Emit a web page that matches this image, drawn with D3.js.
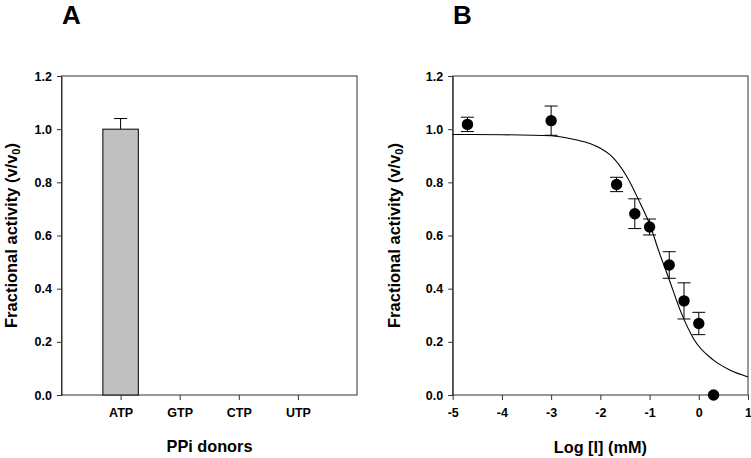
<!DOCTYPE html>
<html><head><meta charset="utf-8">
<script src="https://cdn.jsdelivr.net/npm/d3@7"></script>
<style>body{margin:0;background:#fff}svg{display:block}text{font-family:"Liberation Sans",Arial,sans-serif;font-weight:bold;fill:#000}</style>
</head><body>
<svg id="c" width="751" height="458"></svg>
<script>
// Panel A data
const donors = ["ATP","GTP","CTP","UTP"];
const donorActivity = [1.0, 0, 0, 0];
const donorError = [0.04, 0, 0, 0];
// Panel B data
const logI = [-4.7, -3.0, -1.67, -1.3, -1.0, -0.6, -0.3, 0.0, 0.3];
const activity = [1.018, 1.032, 0.792, 0.682, 0.632, 0.489, 0.354, 0.269, 0.0];
const activityErr = [0.027, 0.055, 0.027, 0.056, 0.03, 0.05, 0.068, 0.042, 0];
// fitted curve
const curveX = [-5, -4, -3, -2.5, -2.2, -2.0, -1.8, -1.46, -1.19, -0.99, -0.82, -0.62, -0.35, -0.1, 0.3, 0.64, 1.0];
const curveY = [0.980, 0.979, 0.975, 0.960, 0.945, 0.928, 0.903, 0.821, 0.721, 0.639, 0.545, 0.444, 0.306, 0.210, 0.131, 0.093, 0.068];
const yTicks = [0, 0.2, 0.4, 0.6, 0.8, 1.0, 1.2];
const xTicksB = [-5, -4, -3, -2, -1, 0, 1];

const svg = d3.select("#c");
const plotTop = 76, plotBottom = 395;
const axisCol = "#333";
const tickFont = "12.5px";

function styleText(sel) {
  sel.style("font-size", tickFont).style("font-family", "Liberation Sans, Arial, sans-serif").style("font-weight", "bold").attr("fill", "#000");
}
function frame(g, x0, x1) {
  g.append("rect").attr("x", x0).attr("y", plotTop).attr("width", x1 - x0).attr("height", plotBottom - plotTop)
    .attr("fill", "none").attr("stroke", axisCol).attr("stroke-width", 1);
}
function yAxis(g, y, x0) {
  const ax = g.append("g").attr("transform", `translate(${x0},0)`)
    .call(d3.axisLeft(y).tickValues(yTicks).tickFormat(d3.format(".1f")).tickSize(4.5).tickPadding(5));
  ax.select(".domain").attr("stroke", axisCol);
  ax.selectAll(".tick line").attr("stroke", axisCol);
  styleText(ax.selectAll("text"));
}
function yTitle(g, x) {
  const t = g.append("text").attr("transform", `translate(${x},${(plotTop + plotBottom) / 2}) rotate(-90)`)
    .attr("text-anchor", "middle").style("font-size", "16.5px");
  t.append("tspan").text("Fractional activity (v/v");
  t.append("tspan").text("0").style("font-size", "11px").attr("dy", "3");
  t.append("tspan").text(")").attr("dy", "-3");
}

// ---------- Panel A ----------
const gA = svg.append("g");
const xA0 = 61.5, xA1 = 357;
const xA = d3.scaleLinear().domain([0, 5]).range([xA0, xA1]);
const yA = d3.scaleLinear().domain([0, 1.2]).range([plotBottom, plotTop]);
frame(gA, xA0, xA1);
const bw = xA(0.6) - xA(0);
donors.forEach((d, i) => {
  if (donorError[i] > 0) {
    const cx = xA(i + 1);
    const yt = yA(donorActivity[i] + donorError[i]);
    gA.append("line").attr("x1", cx).attr("x2", cx).attr("y1", yA(donorActivity[i])).attr("y2", yt).attr("stroke", "#000");
    gA.append("line").attr("x1", cx - 6.5).attr("x2", cx + 6.5).attr("y1", yt).attr("y2", yt).attr("stroke", "#000");
  }
});
gA.selectAll("rect.bar").data(donors.map((d, i) => ({d, i, v: donorActivity[i]})).filter(o => o.v > 0))
  .enter().append("rect").attr("class", "bar")
  .attr("x", o => xA(o.i + 1) - bw / 2)
  .attr("y", o => yA(o.v))
  .attr("width", bw)
  .attr("height", o => plotBottom - yA(o.v))
  .attr("fill", "#c0c0c0").attr("stroke", "#000").attr("stroke-width", 1);
yAxis(gA, yA, xA0);
const axA = gA.append("g").attr("transform", `translate(0,${plotBottom})`)
  .call(d3.axisBottom(xA).tickValues([1, 2, 3, 4]).tickFormat(d => donors[d - 1]).tickSize(5).tickPadding(8));
axA.select(".domain").remove();
axA.selectAll(".tick line").attr("stroke", axisCol);
styleText(axA.selectAll("text"));
gA.append("text").attr("x", 209.5).attr("y", 452).attr("text-anchor", "middle").style("font-size", "16.3px").text("PPi donors");
yTitle(gA, 16.5);
gA.append("text").attr("x", 62).attr("y", 24).style("font-size", "26px").text("A");

// ---------- Panel B ----------
const gB = svg.append("g");
const xB0 = 452.7, xB1 = 748;
const xB = d3.scaleLinear().domain([-5, 1]).range([xB0, xB1]);
const yB = d3.scaleLinear().domain([0, 1.2]).range([plotBottom, plotTop]);
frame(gB, xB0, xB1);
yAxis(gB, yB, xB0);
const axB = gB.append("g").attr("transform", `translate(0,${plotBottom})`)
  .call(d3.axisBottom(xB).tickValues(xTicksB).tickFormat(d => String(d)).tickSize(5).tickPadding(8));
axB.select(".domain").remove();
axB.selectAll(".tick line").attr("stroke", axisCol);
styleText(axB.selectAll("text"));
gB.append("text").attr("x", (xB0 + xB1) / 2).attr("y", 453).attr("text-anchor", "middle").style("font-size", "16.3px").text("Log [I] (mM)");
yTitle(gB, 400);
gB.append("text").attr("x", 453).attr("y", 24).style("font-size", "26px").text("B");

const curvePts = curveX.map((x, i) => [x, curveY[i]]);
gB.append("path").datum(curvePts)
  .attr("d", d3.line().x(d => xB(d[0])).y(d => yB(d[1])).curve(d3.curveMonotoneX))
  .attr("fill", "none").attr("stroke", "#000").attr("stroke-width", 1.1);

logI.forEach((x, i) => {
  const e = activityErr[i];
  if (e > 0) {
    const cx = xB(x);
    const y1 = yB(activity[i] + e), y2 = yB(activity[i] - e);
    gB.append("line").attr("x1", cx).attr("x2", cx).attr("y1", y1).attr("y2", y2).attr("stroke", "#000");
    [y1, y2].forEach(yy => gB.append("line").attr("x1", cx - 6.5).attr("x2", cx + 6.5).attr("y1", yy).attr("y2", yy).attr("stroke", "#000"));
  }
});
gB.selectAll("circle").data(logI).enter().append("circle")
  .attr("cx", d => xB(d)).attr("cy", (d, i) => yB(activity[i])).attr("r", 5.7).attr("fill", "#000");
</script>
</body></html>
